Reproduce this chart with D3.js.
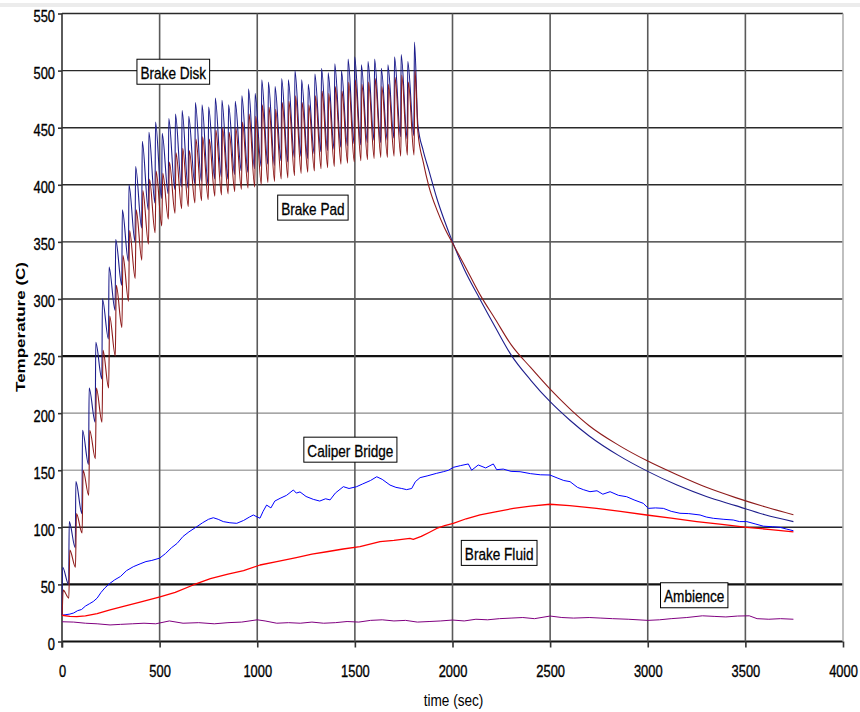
<!DOCTYPE html>
<html>
<head>
<meta charset="utf-8">
<script src="https://cdn.jsdelivr.net/npm/d3@7"></script>
<style>
  body { margin: 0; background: #fff; }
  text { font-family: "Liberation Sans", Arial, sans-serif; fill: #000; }
</style>
</head>
<body>
<svg id="chart"></svg>
<script>
// axis ticks
const timeTicks = [0, 500, 1000, 1500, 2000, 2500, 3000, 3500, 4000];
const tempTicks = [0, 50, 100, 150, 200, 250, 300, 350, 400, 450, 500, 550];

// braking phase: one stop every cycleSec seconds, trough before each stop and the peak after it
const cycleSec = 34;
const diskLow = [23, 50, 82, 112, 155, 192, 230, 265, 290, 312, 333, 350, 362, 378, 384, 388, 392, 396, 398, 397,
  401, 403, 400, 405, 407, 405, 409, 412, 411, 414, 416, 418, 417, 421, 420, 424, 425, 423, 427, 429,
  430, 431, 433, 434, 436, 435, 437, 439, 437, 439, 441, 442, 440, 443];
const diskHigh = [65, 105, 140, 185, 222, 262, 300, 328, 352, 378, 400, 416, 438, 446, 455, 445, 458, 462, 465, 460,
  472, 470, 468, 476, 474, 470, 473, 478, 484, 480, 492, 490, 486, 493, 492, 500, 492, 488, 497, 502,
  498, 506, 500, 510, 512, 505, 508, 510, 502, 505, 512, 514, 508, 525];
const padLow = [23, 38, 65, 95, 128, 160, 192, 222, 250, 275, 298, 318, 334, 348, 358, 364, 370, 375, 379, 381,
  384, 386, 387, 390, 391, 392, 394, 396, 397, 398, 400, 402, 403, 405, 406, 408, 410, 411, 412, 414,
  415, 416, 418, 419, 420, 421, 422, 423, 424, 424, 425, 425, 426, 426];
const padHigh = [45, 80, 112, 150, 185, 222, 255, 285, 312, 338, 360, 378, 395, 405, 412, 410, 420, 428, 432, 430,
  440, 442, 440, 448, 450, 446, 450, 455, 462, 460, 470, 468, 466, 472, 473, 478, 472, 470, 478, 482,
  480, 486, 482, 490, 492, 488, 490, 493, 486, 488, 494, 496, 490, 500];

// cool-down after the last stop
const coolTime = [1823, 1850, 1880, 1920, 1960, 2000, 2060, 2140, 2220, 2300, 2400, 2500, 2600, 2700, 2850, 3000, 3150, 3300, 3450, 3600, 3746];
const diskCool = [452, 430, 412, 388, 368, 350, 326, 300, 275, 251, 229, 210, 194, 180, 163, 149, 137, 127, 119, 111, 105];
const padCool = [446, 420, 398, 378, 362, 349, 330, 304, 282, 260, 240, 221, 204, 189, 172, 158, 146, 135, 126, 118, 111];

// [time, temperature]
const caliperBridge = [[0,23],[20,23.5],[40,24],[60,25],[80,27],[100,28],[120,31],[140,33],[160,35],[180,38],[200,43],[220,47],
  [246,51],[270,54],[300,57],[330,62],[365,65.5],[400,68],[430,70],[460,71],[500,73],[530,77],[560,82],[590,86],[620,92],
  [650,96],[690,100.5],[720,104],[750,107],[775,108.4],[800,107],[826,105],[860,104],[895,103.5],[930,106],[960,109],
  [980,110.8],[1000,109],[1014,108],[1030,114],[1048,119.5],[1070,117],[1090,123],[1117,125.4],[1150,128],[1185,132.7],
  [1200,130],[1219,131],[1250,127],[1287,124.5],[1320,123],[1350,125],[1373,124],[1400,130],[1441,135.6],[1470,134],
  [1509,135.6],[1540,138],[1580,141],[1612,144.3],[1640,142],[1680,137],[1710,135],[1740,134],[1765,133],[1791,134],
  [1810,140],[1834,143.5],[1870,145],[1919,147.3],[1953,148.7],[1980,150],[2004,152.5],[2040,154],[2081,155.5],[2098,150],
  [2132,154.6],[2170,152],[2209,155.5],[2226,150.5],[2260,151],[2300,149],[2346,148.7],[2400,147],[2450,146],[2499,145.8],
  [2540,143],[2570,141],[2602,140],[2640,135],[2670,133],[2704,131.2],[2740,132],[2770,129],[2807,131.2],[2850,128],
  [2892,126.8],[2930,124],[2977,121],[3003,116.6],[3040,117],[3080,116.6],[3120,114],[3165,112.3],[3210,112],[3268,110.8],
  [3300,109],[3336,107.9],[3390,107],[3438,106.4],[3470,105],[3507,105],[3550,103],[3592,101],[3640,100.5],[3677,100],
  [3710,98.5],[3746,97]];
const brakeFluid = [[0,23],[40,22],[75,21.7],[120,22.5],[180,24.5],[246,27.6],[320,31],[400,34.5],[502,39],[580,43],
  [672,49.5],[760,55],[850,59],[930,62],[1014,67],[1100,70],[1200,73.5],[1280,76.5],[1356,78.6],[1440,81],[1526,83],
  [1629,87.4],[1700,88.5],[1782,90.4],[1799,89.5],[1840,92],[1880,95.5],[1919,99],[1960,101.5],[2004,103.5],[2070,107.5],
  [2141,110.8],[2220,113.5],[2312,116.6],[2400,118.5],[2499,120.2],[2600,119],[2738,116.6],[2860,114],[2994,110.8],
  [3120,108],[3251,105],[3380,102.5],[3507,100],[3630,98],[3746,96]];
const ambience = [[0,17.3],[60,17],[120,16],[180,15.5],[246,14.5],[300,15],[360,15.5],[420,16],[480,15.5],[550,18],
  [620,16],[700,16.5],[780,15.5],[850,16.5],[920,17],[1000,19],[1040,18],[1100,16],[1160,16.5],[1220,16],[1280,17],
  [1340,16],[1400,16.5],[1460,17.5],[1520,17],[1580,18.5],[1640,19],[1700,18],[1760,18.5],[1820,17],[1880,17.5],
  [1940,18],[2000,18.8],[2060,18],[2120,19.5],[2180,19],[2240,20],[2300,20.5],[2360,21],[2420,20],[2500,22.3],
  [2560,21],[2620,20.5],[2700,21],[2760,20.5],[2820,20],[2900,19.5],[3000,18.5],[3060,19],[3120,20],[3200,21],
  [3280,22.5],[3340,22],[3400,21.5],[3460,22.3],[3520,22.5],[3560,20],[3620,19.5],[3680,20],[3746,19.5]];

const seriesNames = ["Brake Disk", "Brake Pad", "Caliper Bridge", "Brake Fluid", "Ambience"];
// where each name box sits, in data units
const labelAt = [[570, 499], [1285, 380], [1477, 168], [2239, 77.6], [3238, 40.5]];

const width = 860, height = 712;
const svg = d3.select("#chart").attr("width", width).attr("height", height);

const x = d3.scaleLinear().domain([0, 4000]).range([62, 843]);
const y = d3.scaleLinear().domain([0, 550]).range([641.5, 13.5]);

svg.append("rect").attr("x", 0).attr("y", 3).attr("width", width).attr("height", 4).attr("fill", "#ececec");

// horizontal grid (the picture renders some lines heavier than others)
const hStyle = { 0: ["#111", 2.2], 50: ["#111", 2.2], 250: ["#111", 2.2], 150: ["#aaa", 1.3], 200: ["#8a8a8a", 1.3] };
svg.append("g").selectAll("line")
  .data(tempTicks)
  .join("line")
  .attr("x1", x(0)).attr("x2", x(4000))
  .attr("y1", d => y(d)).attr("y2", d => y(d))
  .attr("stroke", d => hStyle[d] ? hStyle[d][0] : "#2a2a2a")
  .attr("stroke-width", d => hStyle[d] ? hStyle[d][1] : 1.4);

// vertical grid
svg.append("g").selectAll("line")
  .data(timeTicks.slice(1))
  .join("line")
  .attr("x1", d => x(d)).attr("x2", d => x(d))
  .attr("y1", y(550)).attr("y2", y(0))
  .attr("stroke", d => d === 4000 ? "#b0b0b0" : "#5a5a5a")
  .attr("stroke-width", 1.6);

// axes
const yAxis = svg.append("g")
  .attr("transform", `translate(${x(0)},0)`)
  .call(d3.axisLeft(y).tickValues(tempTicks).tickSize(4).tickFormat(d3.format("d")));
const xAxis = svg.append("g")
  .attr("transform", `translate(0,${y(0)})`)
  .call(d3.axisBottom(x).tickValues(timeTicks).tickSize(6).tickFormat(d3.format("d")));
[yAxis, xAxis].forEach(a => {
  a.select(".domain").remove();
  a.selectAll(".tick line").attr("stroke", "#333").attr("stroke-width", 1.6);
  a.selectAll(".tick text").attr("font-size", 17).attr("font-family", "Liberation Sans, Arial, sans-serif")
    .attr("fill", "#000").attr("stroke", "#000").attr("stroke-width", 0.35)
    .attr("x", null).attr("y", null).attr("dy", null);
});
yAxis.selectAll(".tick text").attr("text-anchor", "end").attr("transform", "translate(-7,8) scale(0.76,1)");
xAxis.selectAll(".tick text").attr("text-anchor", "middle").attr("transform", "translate(0,35.5) scale(0.76,1)");

svg.append("line")
  .attr("x1", x(0)).attr("x2", x(0)).attr("y1", y(550)).attr("y2", y(0) + 6)
  .attr("stroke", "#333").attr("stroke-width", 1.6);

// series
const brakeSeries = (low, high, rise, fall, cool) => {
  const pts = [];
  low.forEach((v, i) => {
    pts.push([i * cycleSec + fall, v]);
    pts.push([i * cycleSec + rise, high[i]]);
  });
  coolTime.forEach((t, i) => pts.push([t, cool[i]]));
  return pts;
};
const diskPts = brakeSeries(diskLow, diskHigh, 3, 0, diskCool);
const padPts = brakeSeries(padLow, padHigh, 6, 1, padCool);

const line = d3.line().x(d => x(d[0])).y(d => y(d[1]));
const smooth = d3.line().x(d => x(d[0])).y(d => y(d[1])).curve(d3.curveMonotoneX);

const series = [
  { pts: diskPts, color: "#1e1e8c", w: 1.1, gen: smooth },
  { pts: padPts, color: "#8e1b1b", w: 1.1, gen: smooth },
  { pts: caliperBridge, color: "#0000ff", w: 1, gen: line },
  { pts: brakeFluid, color: "#ff0000", w: 1.3, gen: line },
  { pts: ambience, color: "#800080", w: 1, gen: line }
];
svg.append("g").selectAll("path")
  .data(series)
  .join("path")
  .attr("fill", "none")
  .attr("stroke", d => d.color)
  .attr("stroke-width", d => d.w)
  .attr("stroke-linejoin", "round")
  .attr("d", d => d.gen(d.pts));

// name boxes
const labels = svg.append("g").selectAll("g")
  .data(seriesNames)
  .join("g")
  .attr("transform", (d, i) => `translate(${x(labelAt[i][0])},${y(labelAt[i][1])})`);
labels.each(function (d) {
  const g = d3.select(this);
  const rect = g.append("rect");
  const t = g.append("text")
    .attr("font-size", 17)
    .attr("stroke", "#000")
    .attr("stroke-width", 0.3)
    .attr("text-anchor", "middle")
    .attr("transform", "translate(0,7) scale(0.8,1)")
    .text(d);
  const w = t.node().getComputedTextLength() * 0.8 + 7;
  rect.attr("x", -w / 2).attr("y", -12.5).attr("width", w).attr("height", 25)
    .attr("fill", "#fff").attr("stroke", "#000").attr("stroke-width", 1);
});

// axis titles
svg.append("text")
  .attr("font-size", 17)
  .attr("text-anchor", "middle")
  .attr("transform", `translate(${(x(0) + x(4000)) / 2 + 1},706) scale(0.8,1)`)
  .text("time (sec)");
svg.append("text")
  .attr("font-size", 17)
  .attr("font-weight", "bold")
  .attr("text-anchor", "middle")
  .attr("transform", "translate(25,327) rotate(-90) scale(1,0.8)")
  .text("Temperature (C)");
</script>
</body>
</html>
